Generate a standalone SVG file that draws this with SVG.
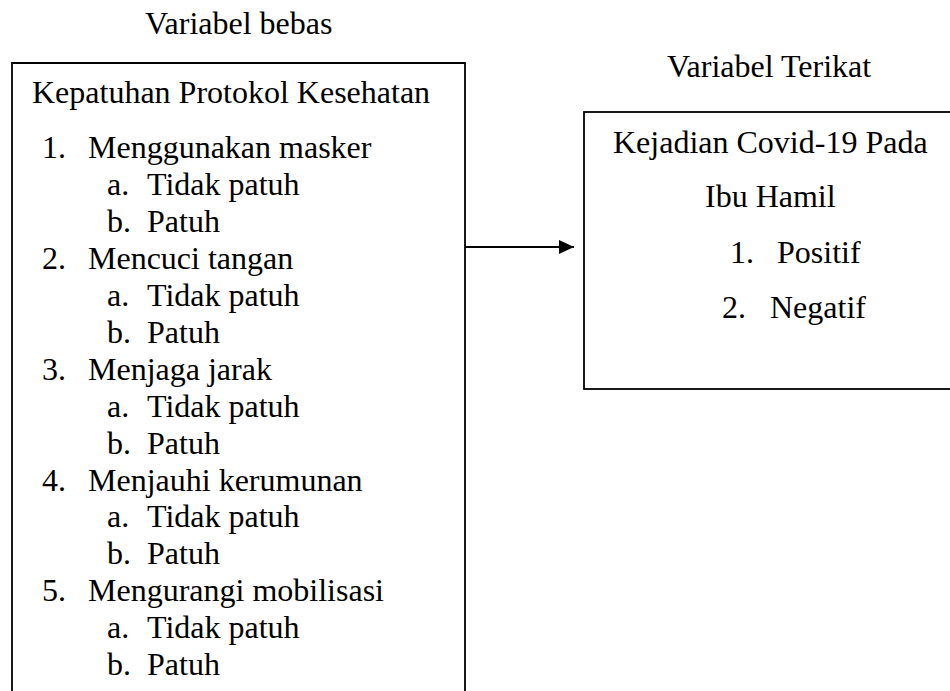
<svg xmlns="http://www.w3.org/2000/svg" width="950" height="691" viewBox="0 0 950 691">
<style>
text{font-family:"Liberation Serif","Times New Roman",serif;font-size:32px;fill:#000}
.box{fill:none;stroke:#000;stroke-width:1.8}
</style>
<defs>
<marker id="ah" markerWidth="16" markerHeight="14" refX="15" refY="7" orient="auto" markerUnits="userSpaceOnUse">
<path d="M0,0 L15,7 L0,14 Z" fill="#000"/>
</marker>
</defs>
<rect width="950" height="691" fill="#fff"/>
<text x="145" y="34">Variabel bebas</text>
<text x="667" y="77">Variabel Terikat</text>
<g id="bebas">
<path class="box" d="M12,692 L12,63 L465,63 L465,692"/>
<text x="32" y="103">Kepatuhan Protokol Kesehatan</text>
<text x="42" y="158">1.</text><text x="88" y="158">Menggunakan masker</text>
<text x="107" y="195">a.</text><text x="147" y="195">Tidak patuh</text>
<text x="107" y="232">b.</text><text x="147" y="232">Patuh</text>
<text x="42" y="269">2.</text><text x="88" y="269">Mencuci tangan</text>
<text x="107" y="306">a.</text><text x="147" y="306">Tidak patuh</text>
<text x="107" y="343">b.</text><text x="147" y="343">Patuh</text>
<text x="42" y="380">3.</text><text x="88" y="380">Menjaga jarak</text>
<text x="107" y="417">a.</text><text x="147" y="417">Tidak patuh</text>
<text x="107" y="454">b.</text><text x="147" y="454">Patuh</text>
<text x="42" y="491">4.</text><text x="88" y="491">Menjauhi kerumunan</text>
<text x="107" y="527">a.</text><text x="147" y="527">Tidak patuh</text>
<text x="107" y="564">b.</text><text x="147" y="564">Patuh</text>
<text x="42" y="601">5.</text><text x="88" y="601">Mengurangi mobilisasi</text>
<text x="107" y="638">a.</text><text x="147" y="638">Tidak patuh</text>
<text x="107" y="675">b.</text><text x="147" y="675">Patuh</text>
</g>
<g id="terikat">
<rect class="box" x="584" y="112" width="370" height="277"/>
<text x="613" y="153">Kejadian Covid-19 Pada</text>
<text x="705" y="207">Ibu Hamil</text>
<text x="730" y="263">1.</text><text x="777" y="263">Positif</text>
<text x="722" y="318">2.</text><text x="770" y="318">Negatif</text>
</g>
<g id="connectors">
<line x1="465" y1="247" x2="574" y2="247" stroke="#000" stroke-width="1.8" marker-end="url(#ah)"/>
</g>
</svg>
